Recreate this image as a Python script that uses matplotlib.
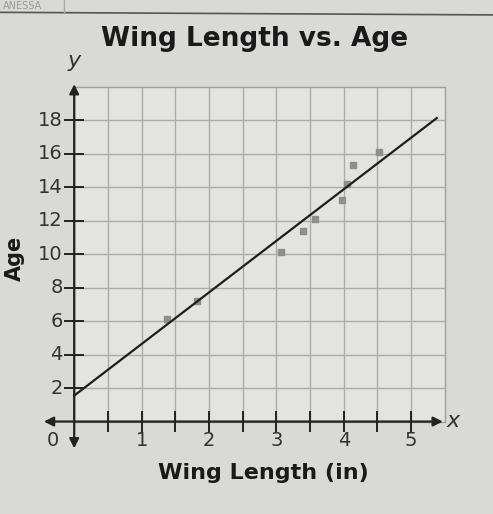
import numpy as np
import matplotlib.pyplot as plt
from matplotlib.patches import Rectangle

# data
wing_len = [1.38, 1.82, 3.07, 3.4, 3.57, 3.97, 4.05, 4.13, 4.53]
age = [6.1, 7.2, 10.1, 11.4, 12.1, 13.2, 14.2, 15.3, 16.1]
fit_x = [0, 5.38]
fit_intercept = 1.55
fit_slope = 3.08
x_labels = [1, 2, 3, 4, 5]
y_labels = [2, 4, 6, 8, 10, 12, 14, 16, 18]

bg = '#d9d9d7'
fig = plt.figure(figsize=(4.93, 5.14), dpi=100, facecolor=bg)
ax = fig.add_axes([0.089, 0.131, 0.868, 0.707])
ax.set_facecolor(bg)
ax.set_xlim(-0.45, 5.9)
ax.set_ylim(-1.5, 20.2)
ax.axis('off')

# grid area
ax.add_patch(Rectangle((0, 0), 5.5, 20, facecolor='#e3e3e1', edgecolor='#9e9e9e', lw=1, zorder=0))
for gx in np.arange(0.5, 5.5, 0.5):
    ax.plot([gx, gx], [0, 20], color='#ababab', lw=1, zorder=1)
for gy in np.arange(2, 20, 2):
    ax.plot([0, 5.5], [gy, gy], color='#ababab', lw=1, zorder=1)

# axes with arrows
ax.annotate('', xy=(0, 20.15), xytext=(0, -1.6),
            arrowprops=dict(arrowstyle='<|-|>', color='#222222', lw=1.6,
                            mutation_scale=14, shrinkA=0, shrinkB=0), zorder=3)
ax.annotate('', xy=(5.47, 0), xytext=(-0.45, 0),
            arrowprops=dict(arrowstyle='<|-|>', color='#222222', lw=1.6,
                            mutation_scale=14, shrinkA=0, shrinkB=0), zorder=3)

# tick crosses
for tx in np.arange(0.5, 5.5, 0.5):
    ax.plot([tx, tx], [-0.55, 0.55], color='#222222', lw=1.4, zorder=3)
for ty in y_labels:
    ax.plot([-0.13, 0.13], [ty, ty], color='#222222', lw=1.4, zorder=3)

for v in x_labels:
    ax.text(v, -1.15, str(v), ha='center', va='center', fontsize=14, color='#333333')
for v in y_labels:
    ax.text(-0.17, v, str(v), ha='right', va='center', fontsize=14, color='#333333')
ax.text(-0.22, -1.15, '0', ha='right', va='center', fontsize=14, color='#333333')

# data and fit line
ax.scatter(wing_len, age, marker='s', s=16, color='#8e8e8e', zorder=4)
fx = np.array(fit_x)
ax.plot(fx, fit_intercept + fit_slope * fx, color='#1e1e1e', lw=1.6, zorder=5)

ax.text(0.0, 21.5, 'y', ha='center', va='center', fontsize=16, style='italic', color='#333333')
ax.text(5.62, 0.05, 'x', ha='center', va='center', fontsize=16, style='italic', color='#333333')

fig.text(0.517, 0.924, 'Wing Length vs. Age', ha='center', va='center',
         fontsize=19, fontweight='bold', color='#1a1a1a')
fig.text(0.535, 0.079, 'Wing Length (in)', ha='center', va='center',
         fontsize=16, fontweight='bold', color='#1a1a1a')
fig.text(0.03, 0.497, 'Age', ha='center', va='center', rotation=90,
         fontsize=15, fontweight='bold', color='#1a1a1a')

# worksheet header remnants
fig.text(0.005, 0.998, 'ANESSA', ha='left', va='top', fontsize=7, color='#9a9a9a')
fig.add_artist(plt.Line2D([0, 1], [0.976, 0.971], color='#555555', lw=1.2))
fig.add_artist(plt.Line2D([0.13, 0.13], [0.976, 1.0], color='#aaaaaa', lw=1))

fig.savefig('out.png', dpi=100, facecolor=bg)
